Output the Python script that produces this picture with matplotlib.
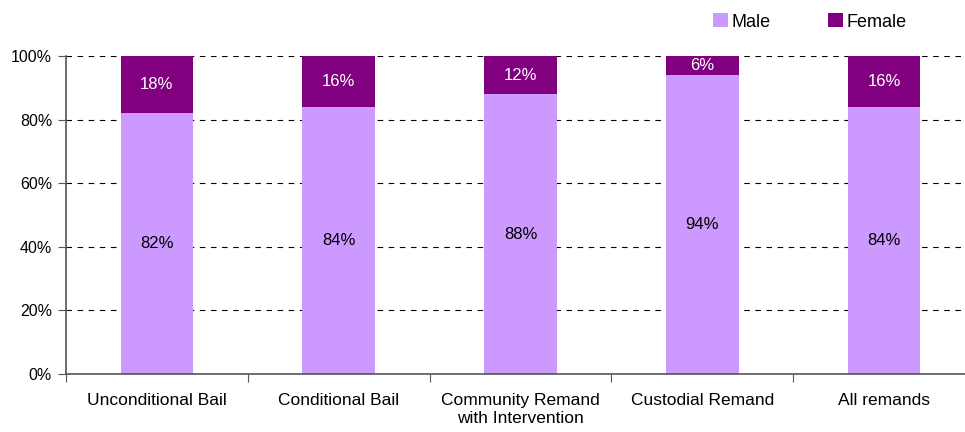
import numpy as np
import matplotlib.pyplot as plt

plt.rcParams['font.family'] = ['Liberation Sans', 'DejaVu Sans']

# remand outcome categories and gender shares (%)
categories = ["Unconditional Bail", "Conditional Bail", "Community Remand\nwith Intervention",
              "Custodial Remand", "All remands"]
male = [82, 84, 88, 94, 84]
female = [18, 16, 12, 6, 16]

male_color = '#CC99FF'
female_color = '#800080'

fig = plt.figure(figsize=(9.65, 4.32), dpi=100)
ax = fig.add_axes([66 / 965, 58 / 432, 909 / 965, 318 / 432])

x = np.arange(len(categories))
b1 = ax.bar(x, male, width=0.4, color=male_color, label='Male', zorder=2)
b2 = ax.bar(x, female, width=0.4, bottom=male, color=female_color, label='Female', zorder=2)

for i in range(len(categories)):
    ax.text(x[i], male[i] / 2, f"{male[i]}%", ha='center', va='center', fontsize=12, color='black')
    ax.text(x[i], male[i] + female[i] / 2, f"{female[i]}%", ha='center', va='center',
            fontsize=12, color='white')

ax.set_xlim(-0.5, len(categories) - 0.5)
ax.set_ylim(0, 100)
ax.set_yticks(range(0, 101, 20))
ax.set_yticklabels([f"{v}%" for v in range(0, 101, 20)], fontsize=11.5)
for v in range(20, 101, 20):
    ax.axhline(v, color='black', linestyle=(0, (5, 5)), linewidth=0.8, zorder=1)

# category ticks sit between the bars
ax.set_xticks(np.arange(-0.5, len(categories), 1.0))
ax.set_xticklabels([])
ax.set_xticks(x, minor=True)
ax.set_xticklabels(categories, minor=True, fontsize=12.5)
ax.tick_params(axis='x', which='minor', length=0, pad=14)
ax.tick_params(axis='x', which='major', length=6, color='#555555', direction='out')
ax.tick_params(axis='y', length=6, color='#555555', direction='out', pad=4)
for label in ax.get_xticklabels(minor=True):
    label.set_linespacing(1.25)

for s in ['top', 'right']:
    ax.spines[s].set_visible(False)
ax.spines['left'].set_color('#555555')
ax.spines['bottom'].set_color('#555555')
ax.spines['left'].set_linewidth(1.2)
ax.spines['bottom'].set_linewidth(1.2)

fig.legend(handles=[b1, b2], labels=['Male', 'Female'], loc='center left',
           bbox_to_anchor=(697 / 965, 1 - 22 / 432), ncol=2, frameon=False, fontsize=13,
           handlelength=0.8, handleheight=0.8, handletextpad=0.2, columnspacing=3.2)

fig.savefig('out.png', dpi=100)
